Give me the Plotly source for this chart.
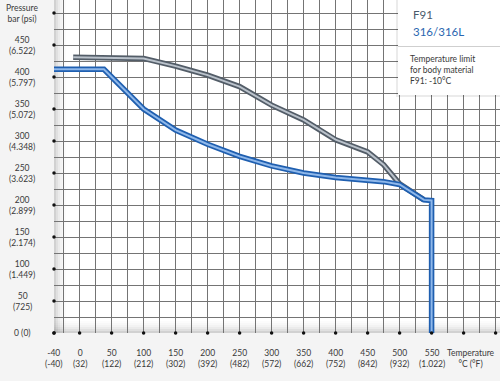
import plotly.graph_objects as go

# --- data ---
temp_316 = [-40, 38, 100, 150, 200, 250, 300, 350, 400, 450, 475, 500, 538, 550, 550]
pres_316 = [412, 412, 350, 317, 295, 276, 261, 250, 243, 239, 236.5, 232, 208, 207, 0]

temp_f91 = [-10, 100, 150, 200, 250, 300, 350, 400, 450, 475, 500, 538]
pres_f91 = [431, 429, 417, 403, 385, 356, 333, 302, 283, 263, 233, 208]

x_ticks = [-40, 0, 50, 100, 150, 200, 250, 300, 350, 400, 450, 500, 550, 611]
x_labels = ["-40<br>(-40)", "0<br>(32)", "50<br>(122)", "100<br>(212)", "150<br>(302)",
            "200<br>(392)", "250<br>(482)", "300<br>(572)", "350<br>(662)", "400<br>(752)",
            "450<br>(842)", "500<br>(932)", "550<br>(1.022)", "Temperature<br>°C (°F)"]
y_ticks = [0, 50, 100, 150, 200, 250, 300, 350, 400, 450, 500]
y_labels = ["0 (0)", "50<br>(725)", "100<br>(1.449)", "150<br>(2.174)", "200<br>(2.899)",
            "250<br>(3.623)", "300<br>(4.348)", "350<br>(5.072)", "400<br>(5.797)",
            "450<br>(6.522)", "Pressure<br>bar (psi)"]
dot_x = [-40, 0, 50, 100, 150, 200, 250, 300, 350, 400, 450, 500, 550, 600, 650]
dot_y = [0, 50, 100, 150, 200, 250, 300, 350, 400, 450, 500]

FONT = "Lato, 'Open Sans', sans-serif"
TXT = "#3a3a3a"

W, H = 500, 381
L, B = 54, 48
pw, ph = W - L, H - B


def px_x(p):
    return (p - L) / pw


def px_y(p):
    return (H - B - p) / ph


fig = go.Figure()


def double_line(x, y, outer, inner, name):
    fig.add_trace(go.Scatter(x=x, y=y, mode="lines", line=dict(color=outer, width=5.5),
                             showlegend=False, hoverinfo="skip", name=name))
    fig.add_trace(go.Scatter(x=x, y=y, mode="lines", line=dict(color=inner, width=2),
                             showlegend=False, name=name))


double_line(temp_f91, pres_f91, "#535d68", "#bac2cb", "F91")
double_line(temp_316, pres_316, "#1f5fb0", "#8fb8ea", "316/316L")

# axis dots
fig.add_trace(go.Scatter(x=[-40] * len(dot_y), y=dot_y, mode="markers",
                         marker=dict(color="#111", size=3.5), cliponaxis=False,
                         showlegend=False, hoverinfo="skip"))
fig.add_trace(go.Scatter(x=dot_x, y=[0] * len(dot_x), mode="markers",
                         marker=dict(color="#111", size=3.5), cliponaxis=False,
                         showlegend=False, hoverinfo="skip"))

annotations = []
for v, t in zip(x_ticks, x_labels):
    annotations.append(dict(x=v, xref="x", y=0, yref="paper", yshift=-25, text=t,
                            showarrow=False, xanchor="center", yanchor="middle",
                            align="center", font=dict(family=FONT, size=8.5, color=TXT)))
for v, t in zip(y_ticks, y_labels):
    annotations.append(dict(x=0, xref="paper", xshift=-32, y=v, yref="y", text=t,
                            showarrow=False, xanchor="center", yanchor="middle",
                            align="center", font=dict(family=FONT, size=8.5, color=TXT)))

shapes = []
# inner shadow at left and bottom edges of plot
shadow = [0.06, 0.045, 0.03, 0.02, 0.015, 0.01]
for i, op in enumerate(shadow):
    shapes.append(dict(type="rect", xref="paper", yref="paper", x0=0, x1=px_x(L + 2 * (i + 1)),
                       y0=0, y1=1, fillcolor="#000", opacity=op, line_width=0, layer="below"))
    shapes.append(dict(type="rect", xref="paper", yref="paper", x0=0, x1=1,
                       y0=0, y1=px_y(H - B - 2 * (i + 1)), fillcolor="#000", opacity=op,
                       line_width=0, layer="below"))

# legend box shadow + box
shapes.append(dict(type="rect", xref="paper", yref="paper", x0=px_x(396), x1=px_x(502),
                   y0=px_y(97), y1=px_y(-2), fillcolor="rgba(0,0,0,0.08)", line_width=0,
                   layer="above"))
shapes.append(dict(type="rect", xref="paper", yref="paper", x0=px_x(398), x1=px_x(502),
                   y0=px_y(95), y1=px_y(-2), fillcolor="white", line_width=0, layer="above"))
shapes.append(dict(type="line", xref="paper", yref="paper", x0=px_x(398), x1=px_x(500),
                   y0=px_y(46.5), y1=px_y(46.5), line=dict(color="#cfcfcf", width=1),
                   layer="above"))

annotations += [
    dict(x=px_x(411), y=px_y(14), xref="paper", yref="paper", text="F91", showarrow=False,
         xanchor="left", yanchor="middle", font=dict(family=FONT, size=11.5, color="#4a5a6a")),
    dict(x=px_x(411), y=px_y(31), xref="paper", yref="paper", text="316/316L", showarrow=False,
         xanchor="left", yanchor="middle", font=dict(family=FONT, size=11.5, color="#2a66b0")),
    dict(x=px_x(408), y=px_y(69.5), xref="paper", yref="paper",
         text="Temperature limit<br>for body material<br>F91: -10°C", showarrow=False,
         xanchor="left", yanchor="middle", align="left",
         font=dict(family=FONT, size=8.5, color=TXT)),
]

fig.update_layout(
    width=W, height=H,
    margin=dict(l=L, r=0, t=0, b=B),
    paper_bgcolor="#f4f4f4",
    plot_bgcolor="white",
    xaxis=dict(range=[-40, -40 + pw / 0.64], tickmode="linear", tick0=0, dtick=25,
               showticklabels=False, showgrid=True, gridcolor="#747474", gridwidth=1,
               zeroline=False, showline=False, ticks="", fixedrange=True),
    yaxis=dict(range=[0, ph / 0.64], tickmode="linear", tick0=0, dtick=25,
               showticklabels=False, showgrid=True, gridcolor="#747474", gridwidth=1,
               zeroline=False, showline=False, ticks="", fixedrange=True),
    annotations=annotations,
    shapes=shapes,
    showlegend=False,
)

fig.write_html("out.html", config={"displayModeBar": False},
               post_script="document.body.style.margin='0';document.body.style.background='#f4f4f4';")
